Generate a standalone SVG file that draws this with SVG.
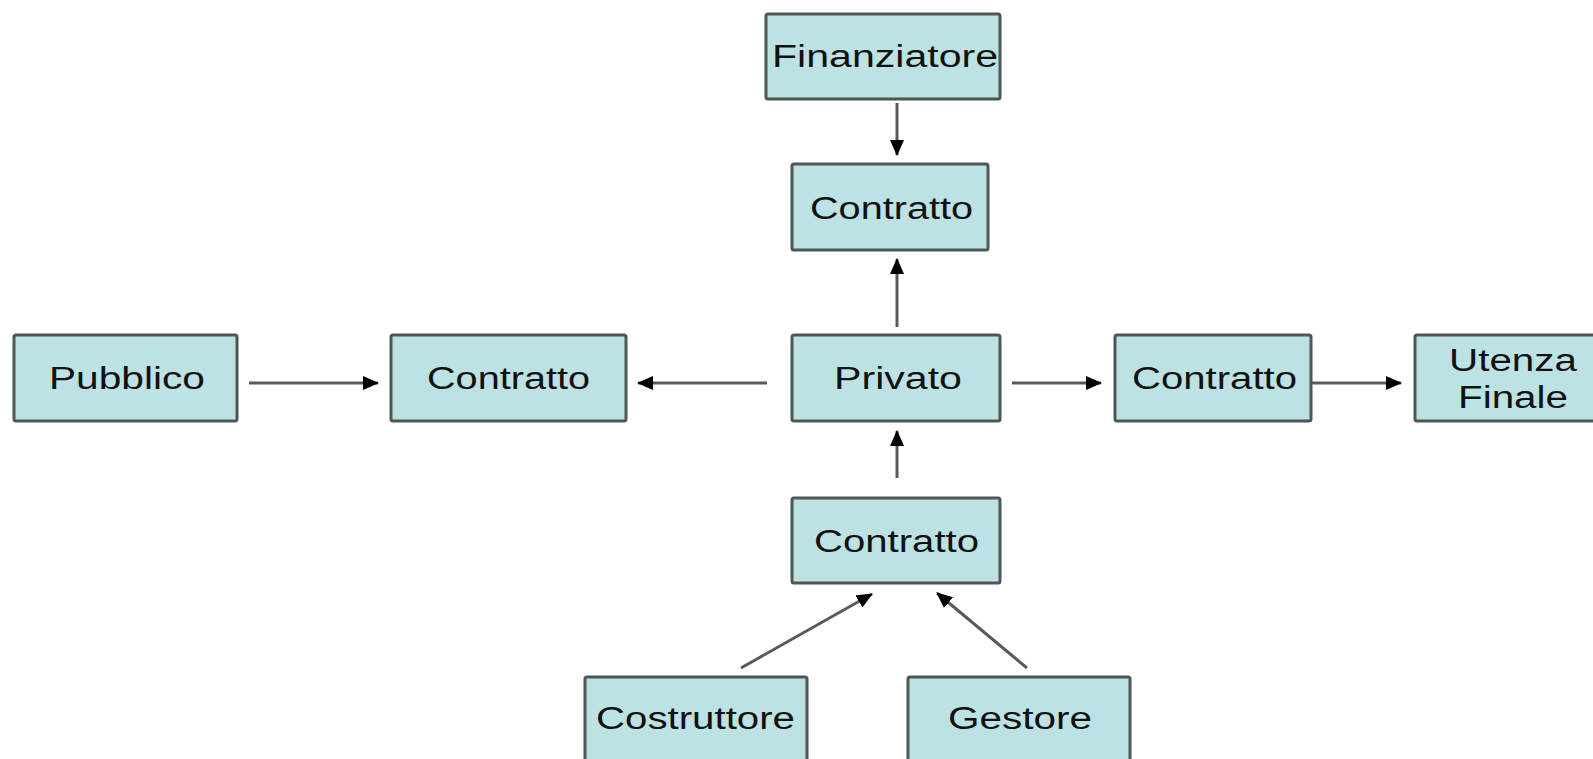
<svg xmlns="http://www.w3.org/2000/svg" width="1593" height="759" viewBox="0 0 1593 759">
<style>
.box{fill:#bce2e4;stroke:#4f5656;stroke-width:3}
.lbl{font-family:"Liberation Sans",Arial,sans-serif;font-size:31px;fill:#111;text-anchor:middle}
.conn{stroke:#5a5a5a;stroke-width:3;fill:none;marker-end:url(#ah)}
</style>
<defs>
<marker id="ah" markerUnits="userSpaceOnUse" markerWidth="16" markerHeight="14" refX="15" refY="7" orient="auto">
<path d="M0,0 L16,7 L0,14 Z" fill="#000"/>
</marker>
</defs>
<rect width="1593" height="759" fill="#fff"/>
<g id="connectors">
<line class="conn" x1="897" y1="103" x2="897" y2="155"/>
<line class="conn" x1="897" y1="327" x2="897" y2="259"/>
<line class="conn" x1="249" y1="383" x2="378" y2="383"/>
<line class="conn" x1="767" y1="383" x2="638" y2="383"/>
<line class="conn" x1="1012" y1="383" x2="1101" y2="383"/>
<line class="conn" x1="1311" y1="383" x2="1401" y2="383"/>
<line class="conn" x1="897" y1="478" x2="897" y2="431"/>
<line class="conn" x1="741" y1="668" x2="872" y2="594"/>
<line class="conn" x1="1027" y1="668" x2="937" y2="593"/>
</g>
<g id="finanziatore"><rect class="box" x="766" y="14" width="234" height="85" rx="2"/><text class="lbl" x="885" y="67" textLength="226" lengthAdjust="spacingAndGlyphs">Finanziatore</text></g>
<g id="contratto-top"><rect class="box" x="792" y="164" width="196" height="86" rx="2"/><text class="lbl" x="891.5" y="219" textLength="163" lengthAdjust="spacingAndGlyphs">Contratto</text></g>
<g id="pubblico"><rect class="box" x="14" y="335" width="223" height="86" rx="2"/><text class="lbl" x="127" y="389" textLength="156" lengthAdjust="spacingAndGlyphs">Pubblico</text></g>
<g id="contratto-left"><rect class="box" x="391" y="335" width="235" height="86" rx="2"/><text class="lbl" x="508.5" y="389" textLength="163" lengthAdjust="spacingAndGlyphs">Contratto</text></g>
<g id="privato"><rect class="box" x="792" y="335" width="208" height="86" rx="2"/><text class="lbl" x="898" y="389" textLength="128" lengthAdjust="spacingAndGlyphs">Privato</text></g>
<g id="contratto-right"><rect class="box" x="1115" y="335" width="196" height="86" rx="2"/><text class="lbl" x="1214.5" y="389" textLength="165" lengthAdjust="spacingAndGlyphs">Contratto</text></g>
<g id="utenza-finale"><rect class="box" x="1415" y="335" width="190" height="86" rx="2"/><text class="lbl" x="1513" y="371" textLength="128" lengthAdjust="spacingAndGlyphs">Utenza</text><text class="lbl" x="1513" y="408" textLength="110" lengthAdjust="spacingAndGlyphs">Finale</text></g>
<g id="contratto-bottom"><rect class="box" x="792" y="498" width="208" height="85" rx="2"/><text class="lbl" x="896.5" y="552" textLength="165" lengthAdjust="spacingAndGlyphs">Contratto</text></g>
<g id="costruttore"><rect class="box" x="585" y="677" width="222" height="100" rx="2"/><text class="lbl" x="695.5" y="729" textLength="199" lengthAdjust="spacingAndGlyphs">Costruttore</text></g>
<g id="gestore"><rect class="box" x="908" y="677" width="222" height="100" rx="2"/><text class="lbl" x="1020" y="729" textLength="144" lengthAdjust="spacingAndGlyphs">Gestore</text></g>
</svg>
